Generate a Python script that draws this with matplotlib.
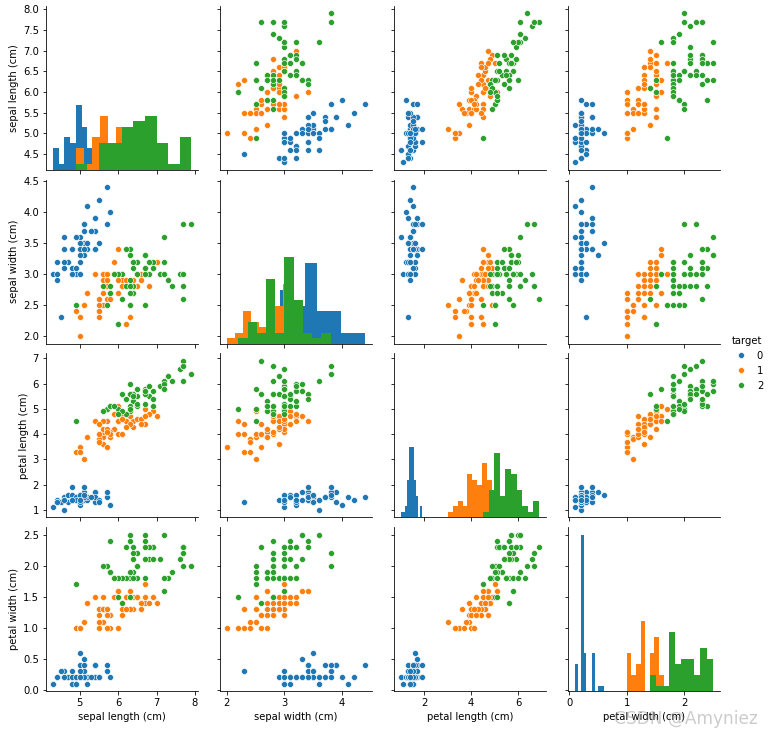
import numpy as np
import pandas as pd
import matplotlib
matplotlib.use('Agg')
import matplotlib.pyplot as plt
from matplotlib.lines import Line2D

# iris data (sklearn load_iris)
sepal_length = [5.1, 4.9, 4.7, 4.6, 5.0, 5.4, 4.6, 5.0, 4.4, 4.9, 5.4, 4.8, 4.8, 4.3, 5.8, 5.7, 5.4, 5.1, 5.7, 5.1,
                5.4, 5.1, 4.6, 5.1, 4.8, 5.0, 5.0, 5.2, 5.2, 4.7, 4.8, 5.4, 5.2, 5.5, 4.9, 5.0, 5.5, 4.9, 4.4, 5.1,
                5.0, 4.5, 4.4, 5.0, 5.1, 4.8, 5.1, 4.6, 5.3, 5.0,
                7.0, 6.4, 6.9, 5.5, 6.5, 5.7, 6.3, 4.9, 6.6, 5.2, 5.0, 5.9, 6.0, 6.1, 5.6, 6.7, 5.6, 5.8, 6.2, 5.6,
                5.9, 6.1, 6.3, 6.1, 6.4, 6.6, 6.8, 6.7, 6.0, 5.7, 5.5, 5.5, 5.8, 6.0, 5.4, 6.0, 6.7, 6.3, 5.6, 5.5,
                5.5, 6.1, 5.8, 5.0, 5.6, 5.7, 5.7, 6.2, 5.1, 5.7,
                6.3, 5.8, 7.1, 6.3, 6.5, 7.6, 4.9, 7.3, 6.7, 7.2, 6.5, 6.4, 6.8, 5.7, 5.8, 6.4, 6.5, 7.7, 7.7, 6.0,
                6.9, 5.6, 7.7, 6.3, 6.7, 7.2, 6.2, 6.1, 6.4, 7.2, 7.4, 7.9, 6.4, 6.3, 6.1, 7.7, 6.3, 6.4, 6.0, 6.9,
                6.7, 6.9, 5.8, 6.8, 6.7, 6.7, 6.3, 6.5, 6.2, 5.9]
sepal_width = [3.5, 3.0, 3.2, 3.1, 3.6, 3.9, 3.4, 3.4, 2.9, 3.1, 3.7, 3.4, 3.0, 3.0, 4.0, 4.4, 3.9, 3.5, 3.8, 3.8,
               3.4, 3.7, 3.6, 3.3, 3.4, 3.0, 3.4, 3.5, 3.4, 3.2, 3.1, 3.4, 4.1, 4.2, 3.1, 3.2, 3.5, 3.6, 3.0, 3.4,
               3.5, 2.3, 3.2, 3.5, 3.8, 3.0, 3.8, 3.2, 3.7, 3.3,
               3.2, 3.2, 3.1, 2.3, 2.8, 2.8, 3.3, 2.4, 2.9, 2.7, 2.0, 3.0, 2.2, 2.9, 2.9, 3.1, 3.0, 2.7, 2.2, 2.5,
               3.2, 2.8, 2.5, 2.8, 2.9, 3.0, 2.8, 3.0, 2.9, 2.6, 2.4, 2.4, 2.7, 2.7, 3.0, 3.4, 3.1, 2.3, 3.0, 2.5,
               2.6, 3.0, 2.6, 2.3, 2.7, 3.0, 2.9, 2.9, 2.5, 2.8,
               3.3, 2.7, 3.0, 2.9, 3.0, 3.0, 2.5, 2.9, 2.5, 3.6, 3.2, 2.7, 3.0, 2.5, 2.8, 3.2, 3.0, 3.8, 2.6, 2.2,
               3.2, 2.8, 2.8, 2.7, 3.3, 3.2, 2.8, 3.0, 2.8, 3.0, 2.8, 3.8, 2.8, 2.8, 2.6, 3.0, 3.4, 3.1, 3.0, 3.1,
               3.1, 3.1, 2.7, 3.2, 3.3, 3.0, 2.5, 3.0, 3.4, 3.0]
petal_length = [1.4, 1.4, 1.3, 1.5, 1.4, 1.7, 1.4, 1.5, 1.4, 1.5, 1.5, 1.6, 1.4, 1.1, 1.2, 1.5, 1.3, 1.4, 1.7, 1.5,
                1.7, 1.5, 1.0, 1.7, 1.9, 1.6, 1.6, 1.5, 1.4, 1.6, 1.6, 1.5, 1.5, 1.4, 1.5, 1.2, 1.3, 1.4, 1.3, 1.5,
                1.3, 1.3, 1.3, 1.6, 1.9, 1.4, 1.6, 1.4, 1.5, 1.4,
                4.7, 4.5, 4.9, 4.0, 4.6, 4.5, 4.7, 3.3, 4.6, 3.9, 3.5, 4.2, 4.0, 4.7, 3.6, 4.4, 4.5, 4.1, 4.5, 3.9,
                4.8, 4.0, 4.9, 4.7, 4.3, 4.4, 4.8, 5.0, 4.5, 3.5, 3.8, 3.7, 3.9, 5.1, 4.5, 4.5, 4.7, 4.4, 4.1, 4.0,
                4.4, 4.6, 4.0, 3.3, 4.2, 4.2, 4.2, 4.3, 3.0, 4.1,
                6.0, 5.1, 5.9, 5.6, 5.8, 6.6, 4.5, 6.3, 5.8, 6.1, 5.1, 5.3, 5.5, 5.0, 5.1, 5.3, 5.5, 6.7, 6.9, 5.0,
                5.7, 4.9, 6.7, 4.9, 5.7, 6.0, 4.8, 4.9, 5.6, 5.8, 6.1, 6.4, 5.6, 5.1, 5.6, 6.1, 5.6, 5.5, 4.8, 5.4,
                5.6, 5.1, 5.1, 5.9, 5.7, 5.2, 5.0, 5.2, 5.4, 5.1]
petal_width = [0.2, 0.2, 0.2, 0.2, 0.2, 0.4, 0.3, 0.2, 0.2, 0.1, 0.2, 0.2, 0.1, 0.1, 0.2, 0.4, 0.4, 0.3, 0.3, 0.3,
               0.2, 0.4, 0.2, 0.5, 0.2, 0.2, 0.4, 0.2, 0.2, 0.2, 0.2, 0.4, 0.1, 0.2, 0.2, 0.2, 0.2, 0.1, 0.2, 0.2,
               0.3, 0.3, 0.2, 0.6, 0.4, 0.3, 0.2, 0.2, 0.2, 0.2,
               1.4, 1.5, 1.5, 1.3, 1.5, 1.3, 1.6, 1.0, 1.3, 1.4, 1.0, 1.5, 1.0, 1.4, 1.3, 1.4, 1.5, 1.0, 1.5, 1.1,
               1.8, 1.3, 1.5, 1.2, 1.3, 1.4, 1.4, 1.7, 1.5, 1.0, 1.1, 1.0, 1.2, 1.6, 1.5, 1.6, 1.5, 1.3, 1.3, 1.3,
               1.2, 1.4, 1.2, 1.0, 1.3, 1.2, 1.3, 1.3, 1.1, 1.3,
               2.5, 1.9, 2.1, 1.8, 2.2, 2.1, 1.7, 1.8, 1.8, 2.5, 2.0, 1.9, 2.1, 2.0, 2.4, 2.3, 1.8, 2.2, 2.3, 1.5,
               2.3, 2.0, 2.0, 1.8, 2.1, 1.8, 1.8, 1.8, 2.1, 1.6, 1.9, 2.0, 2.2, 1.5, 1.4, 2.3, 2.4, 1.8, 1.8, 2.1,
               2.4, 2.3, 1.9, 2.3, 2.5, 2.3, 1.9, 2.0, 2.3, 1.8]
target = [0] * 50 + [1] * 50 + [2] * 50

var_names = ['sepal length (cm)', 'sepal width (cm)', 'petal length (cm)', 'petal width (cm)']
hue_levels = [0, 1, 2]
colors = ['#1f77b4', '#ff7f0e', '#2ca02c']

df = pd.DataFrame({var_names[0]: sepal_length, var_names[1]: sepal_width,
                   var_names[2]: petal_length, var_names[3]: petal_width,
                   'target': target})

W, H = 772, 734
fig, axes = plt.subplots(4, 4, figsize=(W / 72, H / 72), dpi=72, sharex='col', sharey='row')
fig.subplots_adjust(left=46 / W, right=720 / W, top=1 - 6 / H, bottom=1 - 691 / H,
                    wspace=0.145, hspace=0.061)

diag_axes = []
for i, yv in enumerate(var_names):
    for j, xv in enumerate(var_names):
        ax = axes[i, j]
        ax.spines['top'].set_visible(False)
        ax.spines['right'].set_visible(False)
        if i == j:
            # histogram on a hidden twin axis, y shared by all diagonal panels
            dax = ax.twinx()
            dax.set_axis_off()
            if diag_axes:
                dax.sharey(diag_axes[0])
            diag_axes.append(dax)
            for k, lev in enumerate(hue_levels):
                vals = df.loc[df['target'] == lev, xv]
                dax.hist(vals, bins=10, color=colors[k], label=str(lev))
        else:
            for k, lev in enumerate(hue_levels):
                sub = df[df['target'] == lev]
                ax.scatter(sub[xv], sub[yv], s=36, color=colors[k],
                           edgecolor='white', linewidth=0.6)
        if j == 0:
            ax.set_ylabel(yv)
        if i == 3:
            ax.set_xlabel(xv)

axes[0, 0].set_yticks(np.arange(4.5, 8.01, 0.5))
axes[1, 0].set_yticks(np.arange(2.0, 4.51, 0.5))
axes[2, 0].set_yticks(np.arange(1, 8, 1))
axes[3, 0].set_yticks(np.arange(0.0, 2.51, 0.5))
axes[3, 0].set_xticks([5, 6, 7, 8])
axes[3, 1].set_xticks([2, 3, 4])
axes[3, 2].set_xticks([2, 4, 6])
axes[3, 3].set_xticks([0, 1, 2])

handles = [Line2D([], [], marker='o', linestyle='', markersize=6, markerfacecolor=c,
                  markeredgecolor='white', markeredgewidth=0.6) for c in colors]
fig.legend(handles, ['0', '1', '2'], title='target', loc='center left',
           bbox_to_anchor=(0.935, 0.505), frameon=False, handletextpad=0.6)

# watermark
fig.text(0.982, 0.008, 'CSDN @Amyniez', ha='right', va='bottom', fontsize=17,
         color='gray', alpha=0.4)

fig.savefig('out.png', dpi=72)
